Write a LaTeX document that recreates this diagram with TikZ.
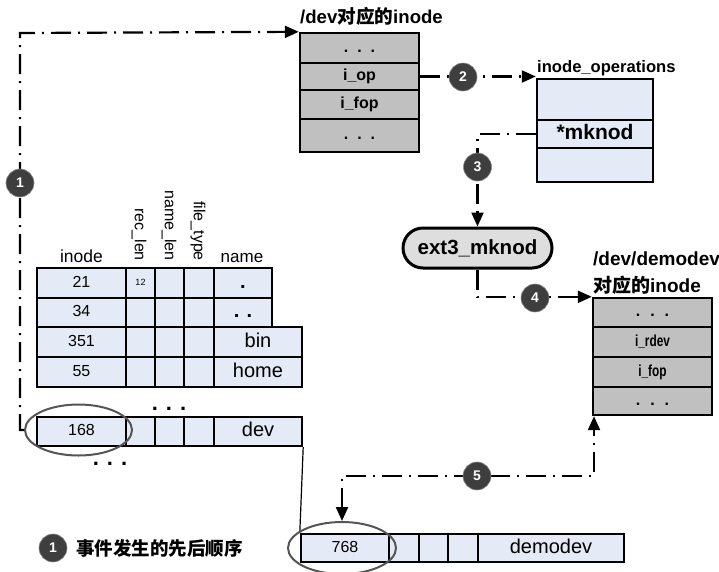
\documentclass[tikz,border=0pt]{standalone}
\usepackage{fontspec}
\setmainfont{Liberation Sans}
\newfontfamily\cjk{Noto Sans CJK SC}
\usetikzlibrary{arrows.meta,shapes.geometric}

\definecolor{boxgray}{RGB}{192,192,192}
\definecolor{boxblue}{RGB}{228,234,246}
\definecolor{capgray}{RGB}{222,222,222}
\definecolor{seqfill}{RGB}{62,62,62}
\definecolor{ringgray}{RGB}{85,85,85}

\newcommand\fs[1]{\fontsize{#1}{#1}\selectfont}
\newcommand\threedots[1]{.\hspace{#1}.\hspace{#1}.}
\newcommand\narrow[1]{\scalebox{0.74}[1]{#1}}
% \tcell{style}{name}{x1}{y1}{x2}{y2}{text}: a cell given by its corners
\newcommand\tcell[7]{%
  \node[#1, minimum width={#5-#3}, minimum height={#6-#4}] (#2)
    at ({(#3+#5)/2},{(#4+#6)/2}) {#7};}

\tikzset{
  cellbase/.style={draw, line width=2.4pt, inner sep=0pt},
  gcell/.style={cellbase, fill=boxgray, font=\bfseries\fs{16},
                text height=11.5pt, text depth=3.2pt},
  hcell/.style={cellbase, fill=boxgray, font=\bfseries\fs{16},
                text height=11.5pt, text depth=3.2pt},
  bcell/.style={cellbase, fill=boxblue, font=\fs{16},
                text height=11.5pt, text depth=3.2pt},
  ncell/.style={cellbase, fill=boxblue, font=\fs{20},
                text height=14.4pt, text depth=4pt},
  scell/.style={cellbase, fill=boxblue, font=\fs{9},
                text height=6.5pt, text depth=2pt},
  opcell/.style={cellbase, fill=boxblue, font=\bfseries\fs{21},
                text height=15pt, text depth=4.2pt},
  flow/.style={line width=2.2pt, dash pattern=on 20pt off 7pt on 2pt off 7pt},
  tip/.tip={Triangle[length=14pt,width=12pt]},
  seqdot/.style={circle, fill=seqfill, draw=black!45, line width=0.6pt,
                 minimum size=28pt, inner sep=0pt, text=white,
                 font=\bfseries\fs{14}},
  ring/.style={ellipse, draw=ringgray, line width=2pt, inner sep=0pt},
  head/.style={inner sep=0pt, font=\fs{16}},
  title/.style={anchor=base west, inner sep=0pt, font=\bfseries\fs{19}},
}

\begin{document}
\begin{tikzpicture}[x=1pt,y=-1pt]
\useasboundingbox (0,0) rectangle (719,571);

% inode of /dev
\node[title, font=\bfseries\fs{18.6}] (t1) at (300,23) {/dev{\cjk 对应的}inode};
\tcell{gcell}{dv1}{300}{33}{419}{63}{\threedots{9pt}}
\tcell{gcell}{dv2}{300}{63}{419}{90}{i\_op}
\tcell{gcell}{dv3}{300}{90}{419}{119}{i\_fop}
\tcell{gcell}{dv4}{300}{119}{419}{152}{\threedots{9pt}}

% inode_operations table
\node[title, font=\bfseries\fs{16.6}] (t2) at (537,72) {inode\_operations};
\tcell{bcell}{op1}{537}{79}{653}{120}{}
\tcell{opcell}{op2}{537}{120}{653}{148}{*mknod}
\tcell{bcell}{op3}{537}{148}{653}{182}{}

% ext3_mknod
\node[draw, line width=3pt, fill=capgray, rounded corners=20pt,
      minimum width=149pt, minimum height=40pt, inner sep=0pt,
      font=\bfseries\fs{20.5}] (ext) at (477.5,248) {ext3\_mknod};

% inode of /dev/demodev
\node[title] (t3) at (593,265) {/dev/demodev};
\node[title] (t4) at (593,292) {{\cjk 对应的}inode};
\tcell{hcell}{dd1}{593}{298}{712}{327}{\threedots{10pt}}
\tcell{hcell}{dd2}{593}{327}{712}{357}{\narrow{i\_rdev}}
\tcell{hcell}{dd3}{593}{357}{712}{387}{\narrow{i\_fop}}
\tcell{hcell}{dd4}{593}{387}{712}{415}{\threedots{10pt}}

% directory entries
\node[head, anchor=base, font=\fs{17.5}] (h1) at (81.5,262) {inode};
\node[head, anchor=base, font=\fs{17}] (h5) at (242,262) {name};
\node[head, rotate=-90, anchor=east] (h2) at (139,261) {rec\_len};
\node[head, rotate=-90, anchor=east] (h3) at (169,261) {name\_len};
\node[head, rotate=-90, anchor=east] (h4) at (198,261) {file\_type};

\tcell{bcell}{r1a}{37}{268}{126}{298}{21}
\tcell{scell}{r1b}{126}{268}{155}{298}{12}
\tcell{bcell}{r1c}{155}{268}{184}{298}{}
\tcell{bcell}{r1d}{184}{268}{214}{298}{}
\tcell{ncell}{r1e}{214}{268}{272}{298}{\textbf{.}}

\tcell{bcell}{r2a}{37}{298}{126}{327}{34}
\tcell{bcell}{r2b}{126}{298}{155}{327}{}
\tcell{bcell}{r2c}{155}{298}{184}{327}{}
\tcell{bcell}{r2d}{184}{298}{214}{327}{}
\tcell{ncell}{r2e}{214}{298}{272}{327}{\textbf{.\hspace{7pt}.}}

\tcell{bcell}{r3a}{37}{327}{126}{357}{351}
\tcell{bcell}{r3b}{126}{327}{155}{357}{}
\tcell{bcell}{r3c}{155}{327}{184}{357}{}
\tcell{bcell}{r3d}{184}{327}{214}{357}{}
\tcell{ncell}{r3e}{214}{327}{302}{357}{bin}

\tcell{bcell}{r4a}{37}{357}{126}{387}{55}
\tcell{bcell}{r4b}{126}{357}{155}{387}{}
\tcell{bcell}{r4c}{155}{357}{184}{387}{}
\tcell{bcell}{r4d}{184}{357}{214}{387}{}
\tcell{ncell}{r4e}{214}{357}{302}{387}{home}

\node[inner sep=0pt, font=\bfseries\fs{22}] (gap1) at (169,409) {\threedots{8pt}};

\tcell{bcell}{r5a}{37}{417}{126}{446}{168}
\tcell{bcell}{r5b}{126}{417}{155}{446}{}
\tcell{bcell}{r5c}{155}{417}{184}{446}{}
\tcell{bcell}{r5d}{184}{417}{214}{446}{}
\tcell{ncell}{r5e}{214}{417}{302}{446}{dev}

\node[inner sep=0pt, font=\bfseries\fs{22}] (gap2) at (110,464) {\threedots{8pt}};

% new entry for demodev
\tcell{bcell}{m1}{301}{534}{389}{562}{768}
\tcell{bcell}{m2}{389}{534}{419}{562}{}
\tcell{bcell}{m3}{419}{534}{448}{562}{}
\tcell{bcell}{m4}{448}{534}{478}{562}{}
\tcell{ncell}{m5}{478}{534}{624}{562}{demodev}

\draw[line width=1.2pt] (r5e.south east) -- (m1.north west);

% highlighted inode numbers
\node[ring, minimum width=107pt, minimum height=51pt] (e168) at (78.5,430) {};
\node[ring, minimum width=108pt, minimum height=52pt] (e768) at (342,548) {};

% sequence of events
\coordinate (c1a) at (20,430);
\coordinate (c1b) at (20,33);
\draw[flow,-tip] (e168.west) -- (c1a) -- (c1b) -- (dv1.north west);
\node[seqdot] (s1) at (20,183) {1};

\draw[flow,-tip] (dv2.east) -- (dv2.east -| op1.west);
\node[seqdot] (s2) at (463,77) {2};

\draw[flow,-tip] (op2.west) -| (ext.north);
\node[seqdot] (s3) at (477.5,167) {3};

\draw[flow,-tip] (ext.south) |- (dd1.north west);
\node[seqdot] (s4) at (535,298) {4};

\coordinate (c5) at (594,476);
\draw[flow,tip-tip] (e768.north) |- (c5) -- (c5 |- dd4.south);
\node[seqdot] (s5) at (477,476) {5};

% legend
\node[seqdot] (s0) at (53,548) {1};
\node[anchor=west, inner sep=0pt, font=\cjk\bfseries\fs{18.5}] (legend) at (76,548) {事件发生的先后顺序};
\end{tikzpicture}
\end{document}
